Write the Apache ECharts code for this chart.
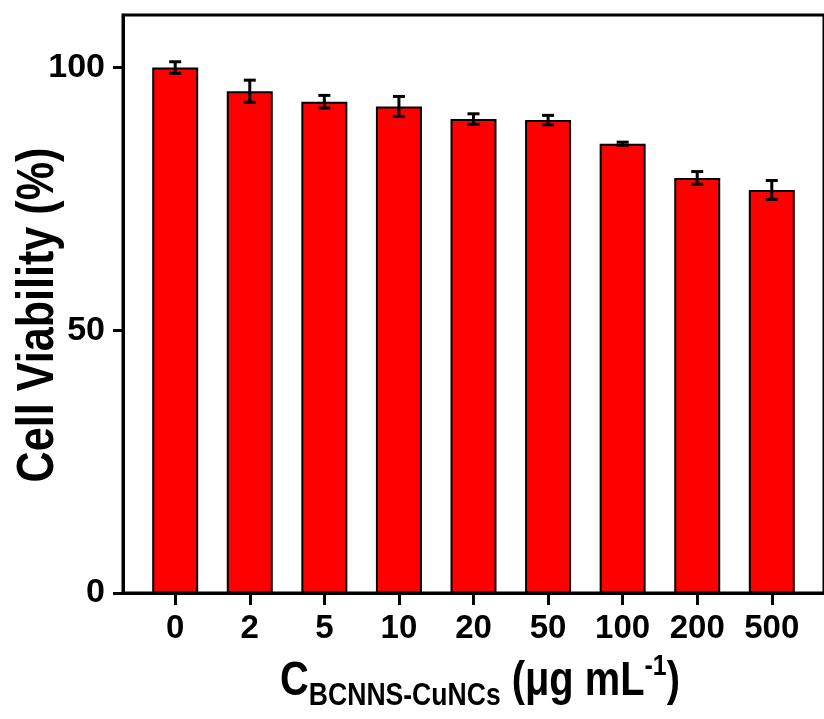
<!DOCTYPE html>
<html>
<head>
<meta charset="utf-8">
<script src="https://cdn.jsdelivr.net/npm/echarts@6/dist/echarts.min.js"></script>
<style>
  html, body { margin: 0; padding: 0; background: #fff; }
  #chart { width: 824px; height: 719px; }
</style>
</head>
<body>
<div id="chart"></div>
<script>
  // concentrations (ug/mL)
  var categories = ['0', '2', '5', '10', '20', '50', '100', '200', '500']
  // cell viability (%) and error
  var viability = [100, 95.5, 93.5, 92.6, 90.2, 90.0, 85.5, 79.0, 76.7]
  var errors = [1.1, 2.1, 1.2, 1.9, 1.0, 0.9, 0.3, 1.2, 1.8]
  var yTicks = [0, 50, 100]

  var FONT = '"Liberation Sans", Arial, sans-serif'

  var positions = categories.map(function (c, i) { return i })
  var barData = categories.map(function (c, i) { return [i, viability[i]] })
  var errData = categories.map(function (c, i) {
    return [i, viability[i] - errors[i], viability[i] + errors[i]]
  })

  var myChart = echarts.init(document.getElementById('chart'))
  myChart.setOption({
    animation: false,
    grid: {
      left: 123,
      top: 15,
      right: -9,
      bottom: 126,
      show: true,
      borderColor: '#000',
      borderWidth: 3,
      backgroundColor: 'transparent'
    },
    xAxis: {
      type: 'value',
      min: -0.7,
      max: 8.7,
      splitLine: { show: false },
      axisLine: { onZero: false, lineStyle: { color: '#000', width: 3 } },
      axisTick: {
        customValues: positions,
        length: 12,
        lineStyle: { color: '#000', width: 3 }
      },
      axisLabel: {
        customValues: positions,
        margin: 19,
        color: '#000',
        fontFamily: FONT,
        fontWeight: 'bold',
        fontSize: 33,
        formatter: function (v) { return categories[Math.round(v)] }
      }
    },
    yAxis: {
      type: 'value',
      min: 0,
      max: 110,
      splitLine: { show: false },
      axisLine: { onZero: false, lineStyle: { color: '#000', width: 3 } },
      axisTick: {
        customValues: yTicks,
        length: 10,
        lineStyle: { color: '#000', width: 3 }
      },
      axisLabel: {
        customValues: yTicks,
        margin: 18,
        color: '#000',
        fontFamily: FONT,
        fontWeight: 'bold',
        fontSize: 34
      }
    },
    series: [
      {
        type: 'bar',
        data: barData,
        barWidth: 46,
        itemStyle: {
          color: '#ff0000',
          borderColor: '#000',
          borderWidth: 2
        }
      },
      {
        type: 'custom',
        data: errData,
        encode: { x: 0, y: [1, 2] },
        z: 10,
        renderItem: function (params, api) {
          var lo = api.coord([api.value(0), api.value(1)])
          var hi = api.coord([api.value(0), api.value(2)])
          var w = 6
          var style = { stroke: '#000', lineWidth: 3 }
          return {
            type: 'group',
            children: [
              { type: 'line', shape: { x1: lo[0], y1: lo[1], x2: hi[0], y2: hi[1] }, style: style },
              { type: 'line', shape: { x1: lo[0] - w, y1: lo[1], x2: lo[0] + w, y2: lo[1] }, style: style },
              { type: 'line', shape: { x1: hi[0] - w, y1: hi[1], x2: hi[0] + w, y2: hi[1] }, style: style }
            ]
          }
        }
      }
    ],
    graphic: [
      {
        type: 'text',
        x: 39,
        y: 315,
        rotation: Math.PI / 2,
        scaleX: 0.83,
        style: {
          text: 'Cell Viability (%)',
          fontFamily: FONT,
          fontWeight: 'bold',
          fontSize: 52,
          fill: '#000',
          align: 'center',
          verticalAlign: 'middle'
        }
      },
      {
        type: 'text',
        x: 480,
        y: 682,
        scaleX: 0.83,
        style: {
          text: '{c|C}{sub|BCNNS-CuNCs}{p| (μg mL}{sup|-1}{p|)}',
          fontFamily: FONT,
          fontWeight: 'bold',
          fill: '#000',
          align: 'center',
          verticalAlign: 'middle',
          rich: {
            c: { fontFamily: FONT, fontWeight: 'bold', fontSize: 48, lineHeight: 60, verticalAlign: 'middle' },
            sub: { fontFamily: FONT, fontWeight: 'bold', fontSize: 32, lineHeight: 32, verticalAlign: 'bottom' },
            p: { fontFamily: FONT, fontWeight: 'bold', fontSize: 48, lineHeight: 60, verticalAlign: 'middle' },
            sup: { fontFamily: FONT, fontWeight: 'bold', fontSize: 30, lineHeight: 30, verticalAlign: 'top' }
          }
        }
      }
    ]
  })
</script>
</body>
</html>
